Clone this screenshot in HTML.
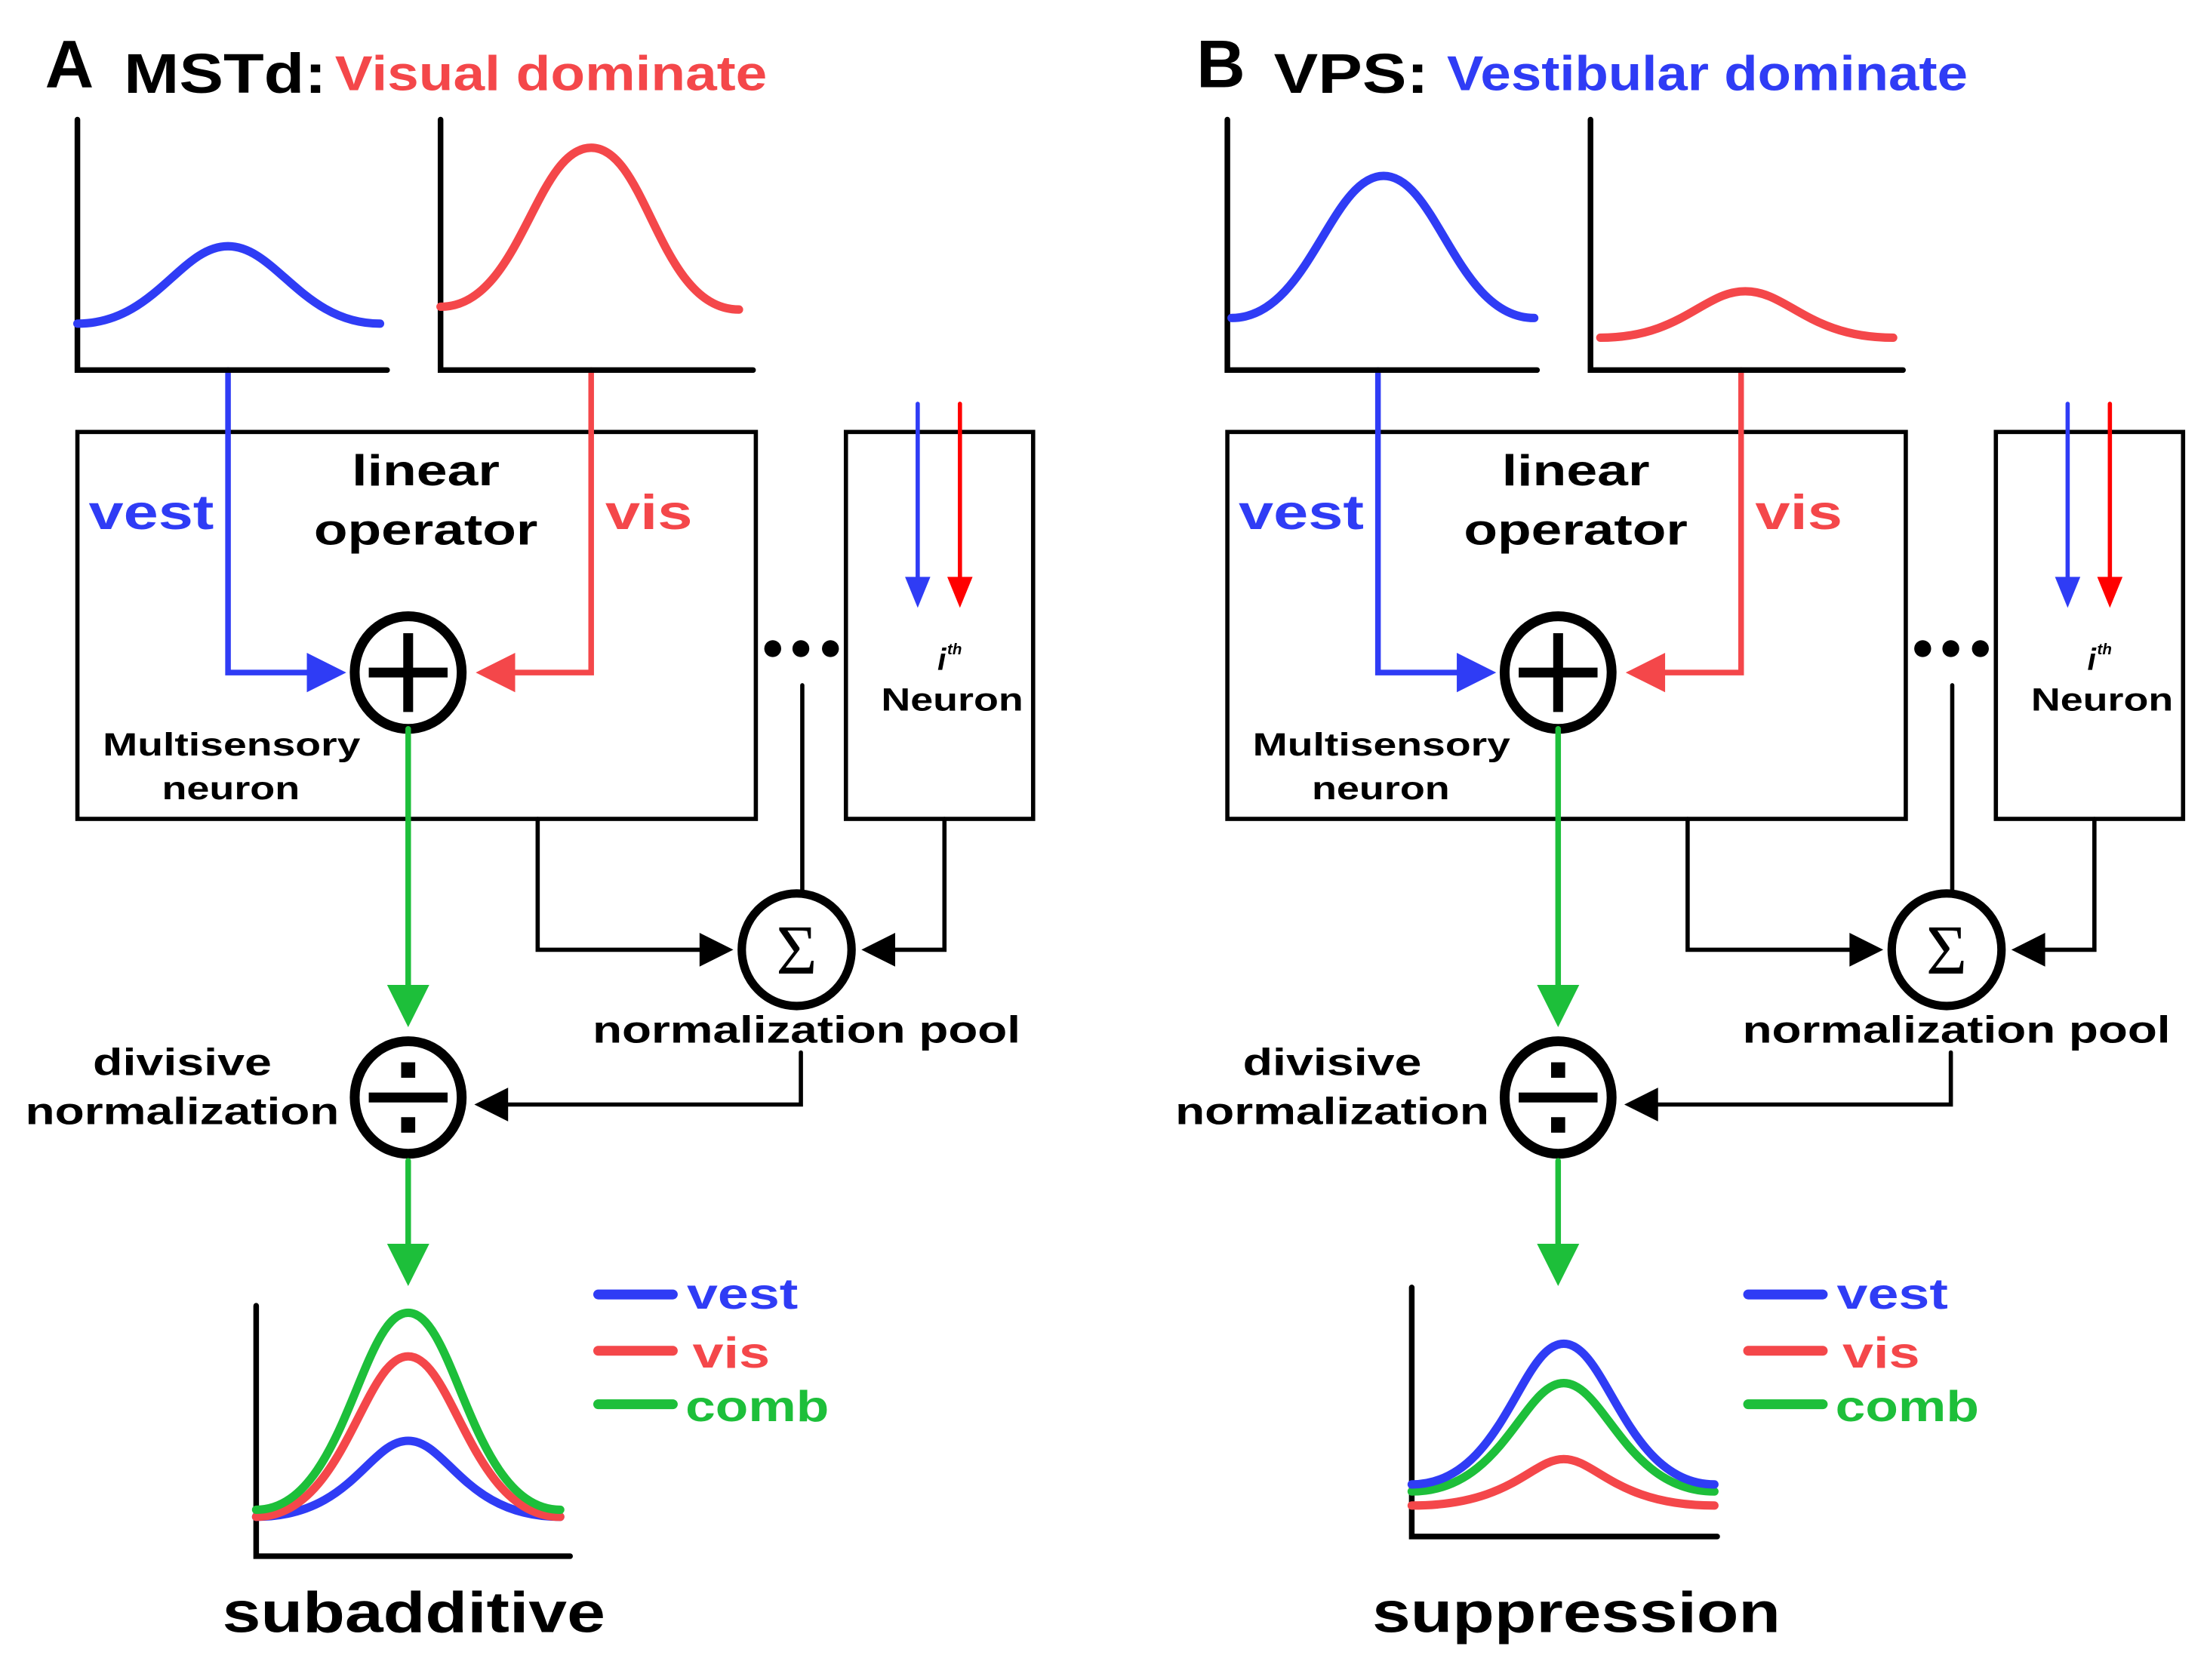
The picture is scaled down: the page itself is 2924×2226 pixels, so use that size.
<!DOCTYPE html>
<html><head><meta charset="utf-8"><style>
html,body{margin:0;padding:0;background:#fff}
svg{display:block}
text{font-family:"Liberation Sans",Arial,sans-serif;font-weight:bold}
</style></head><body>
<svg width="2924" height="2226" viewBox="0 0 1568 1194" preserveAspectRatio="none" xmlns="http://www.w3.org/2000/svg">
<g id="A" fill="none" stroke-linecap="round" stroke-linejoin="miter">
 <rect x="55" y="307" width="482" height="275" stroke="#000" stroke-width="3"/>
 <rect x="601" y="307" width="133" height="275" stroke="#000" stroke-width="3"/>
 <line x1="652" y1="287" x2="652" y2="412" stroke="#2f3cf5" stroke-width="3"/>
 <path d="M643,410L661,410L652,432z" fill="#2f3cf5" stroke="none"/>
 <line x1="682" y1="287" x2="682" y2="412" stroke="#f00" stroke-width="3"/>
 <path d="M673,410L691,410L682,432z" fill="#f00" stroke="none"/>
 <polyline points="162,263 162,478 222,478" stroke="#2f3cf5" stroke-width="4"/>
 <path d="M218,464L246,478L218,492z" fill="#2f3cf5" stroke="none"/>
 <polyline points="420,263 420,478 362,478" stroke="#f4474a" stroke-width="4"/>
 <path d="M366,464L338,478L366,492z" fill="#f4474a" stroke="none"/>
 <ellipse cx="290" cy="478" rx="38" ry="40" stroke="#000" stroke-width="7"/>
 <line x1="262" y1="478" x2="318" y2="478" stroke="#000" stroke-width="7" stroke-linecap="butt"/>
 <line x1="290" y1="450" x2="290" y2="506" stroke="#000" stroke-width="7" stroke-linecap="butt"/>
 <circle cx="549" cy="461" r="6" fill="#000" stroke="none"/>
 <circle cx="569" cy="461" r="6" fill="#000" stroke="none"/>
 <circle cx="590" cy="461" r="6" fill="#000" stroke="none"/>
 <line x1="570" y1="487" x2="570" y2="633" stroke="#000" stroke-width="3"/>
 <polyline points="382,582 382,675 500,675" stroke="#000" stroke-width="3"/>
 <path d="M497,663L521,675L497,687z" fill="#000" stroke="none"/>
 <polyline points="671,582 671,675 632,675" stroke="#000" stroke-width="3"/>
 <path d="M636,663L612,675L636,687z" fill="#000" stroke="none"/>
 <ellipse cx="566" cy="675" rx="39" ry="40" stroke="#000" stroke-width="6"/>
 <text x="566" y="692" font-size="50" text-anchor="middle" fill="#000" stroke="none" style="font-family:'Liberation Serif',serif;font-weight:normal">Σ</text>
 <polyline points="569,748 569,785 357,785" stroke="#000" stroke-width="3"/>
 <path d="M361,773L337,785L361,797z" fill="#000" stroke="none"/>
 <ellipse cx="290" cy="780" rx="38" ry="40" stroke="#000" stroke-width="7"/>
 <line x1="262" y1="780" x2="318" y2="780" stroke="#000" stroke-width="7" stroke-linecap="butt"/>
 <rect x="285" y="755" width="10" height="11" fill="#000" stroke="none"/>
 <rect x="285" y="794" width="10" height="11" fill="#000" stroke="none"/>
 <line x1="290" y1="518" x2="290" y2="705" stroke="#1dbf3a" stroke-width="4"/>
 <path d="M275,700L305,700L290,730z" fill="#1dbf3a" stroke="none"/>
 <line x1="290" y1="825" x2="290" y2="888" stroke="#1dbf3a" stroke-width="4"/>
 <path d="M275,884L305,884L290,914z" fill="#1dbf3a" stroke="none"/>
 <polyline points="55,85 55,263 275,263" stroke="#000" stroke-width="4"/>
 <polyline points="313,85 313,263 535,263" stroke="#000" stroke-width="4"/>
 <line x1="425" y1="920" x2="478" y2="920" stroke="#2f3cf5" stroke-width="7"/>
 <line x1="425" y1="960" x2="478" y2="960" stroke="#f4474a" stroke-width="7"/>
 <line x1="425" y1="998" x2="478" y2="998" stroke="#1dbf3a" stroke-width="7"/>
 <text x="488" y="930" font-size="31" fill="#2f3cf5" stroke="none" textLength="79" lengthAdjust="spacingAndGlyphs">vest</text>
 <text x="492" y="972" font-size="31" fill="#f4474a" stroke="none" textLength="55" lengthAdjust="spacingAndGlyphs">vis</text>
 <text x="487" y="1010" font-size="31" fill="#1dbf3a" stroke="none" textLength="102" lengthAdjust="spacingAndGlyphs">comb</text>
 <g fill="#000" stroke="none">
  <text x="250" y="345" font-size="31" textLength="105" lengthAdjust="spacingAndGlyphs">linear</text>
  <text x="223" y="387" font-size="31" textLength="159" lengthAdjust="spacingAndGlyphs">operator</text>
  <text x="73" y="537" font-size="23" textLength="183" lengthAdjust="spacingAndGlyphs">Multisensory</text>
  <text x="115" y="568" font-size="23" textLength="98" lengthAdjust="spacingAndGlyphs">neuron</text>
  <text x="626" y="505" font-size="23" textLength="101" lengthAdjust="spacingAndGlyphs">Neuron</text>
  <text x="421" y="741" font-size="27" textLength="304" lengthAdjust="spacingAndGlyphs">normalization pool</text>
  <text x="66" y="764" font-size="27" textLength="127" lengthAdjust="spacingAndGlyphs">divisive</text>
  <text x="18" y="799" font-size="27" textLength="223" lengthAdjust="spacingAndGlyphs">normalization</text>
 </g>
 <text x="666" y="476" font-size="22" fill="#000" stroke="none" font-style="italic">i</text>
 <text x="673" y="465" font-size="11" fill="#000" stroke="none" font-style="italic">th</text>
 <text x="63" y="376" font-size="35" fill="#2f3cf5" stroke="none" textLength="89" lengthAdjust="spacingAndGlyphs">vest</text>
 <text x="430" y="376" font-size="35" fill="#f4474a" stroke="none" textLength="62" lengthAdjust="spacingAndGlyphs">vis</text>
</g>
<use href="#A" x="817" y="0"/>

<g fill="none" stroke-width="6" stroke-linecap="round">
 <path d="M55,230 C110,230 128,175 162,175 C196,175 215,230 270,230" stroke="#2f3cf5"/>
 <path d="M313,218 C370,218 380,105 420,105 C460,105 468,220 525,220" stroke="#f4474a"/>
 <polyline points="182,928 182,1106 405,1106" stroke="#000" stroke-width="4"/>
 <path d="M182,1078 C250,1078 262,1024 290,1024 C318,1024 330,1078 398,1078" stroke="#2f3cf5"/>
 <path d="M182,1078 C245,1078 258,964 290,964 C322,964 335,1078 398,1078" stroke="#f4474a"/>
 <path d="M182,1073 C245,1073 256,933 290,933 C324,933 335,1073 398,1073" stroke="#1dbf3a"/>
 <path d="M875,226 C930,226 945,125 983,125 C1021,125 1035,226 1090,226" stroke="#2f3cf5"/>
 <path d="M1137,240 C1195,240 1210,207 1240,207 C1270,207 1285,240 1345,240" stroke="#f4474a"/>
 <polyline points="1003,915 1003,1092 1220,1092" stroke="#000" stroke-width="4"/>
 <path d="M1003,1070 C1075,1070 1088,1037 1111,1037 C1134,1037 1148,1070 1218,1070" stroke="#f4474a"/>
 <path d="M1003,1060 C1068,1060 1082,983 1111,983 C1140,983 1155,1060 1218,1060" stroke="#1dbf3a"/>
 <path d="M1003,1055 C1068,1055 1080,955 1111,955 C1142,955 1155,1055 1218,1055" stroke="#2f3cf5"/>
</g>
<text x="32" y="62" font-size="48" fill="#000">A</text>
<text x="88" y="66" font-size="40" fill="#000" textLength="144" lengthAdjust="spacingAndGlyphs">MSTd:</text>
<text x="238" y="64" font-size="35" fill="#f4474a" textLength="307" lengthAdjust="spacingAndGlyphs">Visual  dominate</text>
<text x="850" y="62" font-size="48" fill="#000">B</text>
<text x="905" y="66" font-size="40" fill="#000" textLength="110" lengthAdjust="spacingAndGlyphs">VPS:</text>
<text x="1028" y="64" font-size="35" fill="#2f3cf5" textLength="370" lengthAdjust="spacingAndGlyphs">Vestibular dominate</text>
<text x="158" y="1160" font-size="41" fill="#000" textLength="272" lengthAdjust="spacingAndGlyphs">subadditive</text>
<text x="975" y="1160" font-size="41" fill="#000" textLength="290" lengthAdjust="spacingAndGlyphs">suppression</text>
</svg>
</body></html>
